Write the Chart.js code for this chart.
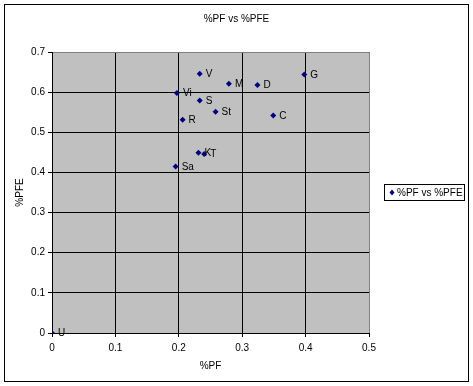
<!DOCTYPE html>
<html>
<head>
<meta charset="utf-8">
<script src="https://cdn.jsdelivr.net/npm/chart.js@4.4.1/dist/chart.umd.min.js"></script>
<style>
  html, body { margin: 0; padding: 0; background: #fff; }
  canvas { display: block; }
</style>
</head>
<body>
<canvas id="scatter" width="473" height="386"></canvas>
<script>
// data
const POINT_NAMES = ['U', 'Sa', 'Vi', 'R', 'K', 'T', 'S', 'V', 'St', 'M', 'D', 'C', 'G'];
const PF_VALUES   = [0, 0.195, 0.197, 0.206, 0.231, 0.240, 0.233, 0.233, 0.258, 0.279, 0.324, 0.349, 0.398];
const PFE_VALUES  = [0, 0.415, 0.598, 0.531, 0.449, 0.446, 0.579, 0.646, 0.551, 0.621, 0.618, 0.542, 0.644];

const TITLE = '%PF vs %PFE';
const SERIES_NAME = '%PF vs %PFE';
const X_TITLE = '%PF';
const Y_TITLE = '%PFE';

const FONT = "'Liberation Sans', Arial, sans-serif";
const NAVY = '#000080';
const PLOT_GREY = '#C0C0C0';
const EDGE_GREY = '#808080';

Chart.defaults.font.family = FONT;
Chart.defaults.font.size = 10;
Chart.defaults.color = '#000';

// ── excel-ish frame, point labels, title and legend ─────────────
const excelFrame = {
  id: 'excelFrame',
  beforeDraw(chart) {
    const { ctx: c, chartArea: a } = chart;
    c.save();
    c.fillStyle = '#fff';
    c.fillRect(0, 0, chart.width, chart.height);
    c.fillStyle = PLOT_GREY;
    c.fillRect(a.left, a.top, a.right - a.left, a.bottom - a.top);
    c.restore();
  },
  afterDatasetsDraw(chart) {
    const c = chart.ctx;
    const pts = chart.getDatasetMeta(0).data;
    c.save();
    c.font = '10px ' + FONT;
    c.fillStyle = '#000';
    c.textAlign = 'left';
    c.textBaseline = 'middle';
    pts.forEach((p, i) => c.fillText(POINT_NAMES[i], p.x + 6, p.y + 0.5));
    c.restore();
  },
  afterDraw(chart) {
    const c = chart.ctx;
    c.save();
    // title
    c.font = '10px ' + FONT;
    c.fillStyle = '#000';
    c.textAlign = 'center';
    c.textBaseline = 'middle';
    c.fillText(TITLE, 236.5, 19);

    // legend box
    c.strokeStyle = '#000';
    c.lineWidth = 1;
    c.strokeRect(384.5, 184.5, 80, 16);
    c.fillStyle = NAVY;
    c.beginPath();
    c.moveTo(392, 189.5); c.lineTo(394.5, 192.5); c.lineTo(392, 195.5); c.lineTo(389.5, 192.5);
    c.closePath();
    c.fill();
    c.fillStyle = '#000';
    c.textAlign = 'left';
    c.fillText(SERIES_NAME, 397, 193);

    // outer border
    c.strokeRect(4.5, 4.5, 464, 377);
    c.restore();
  }
};

new Chart(document.getElementById('scatter'), {
  type: 'scatter',
  data: {
    datasets: [{
      label: SERIES_NAME,
      data: PF_VALUES.map((x, i) => ({ x, y: PFE_VALUES[i] })),
      pointStyle: 'rectRot',
      pointRadius: 3,
      pointBackgroundColor: NAVY,
      pointBorderColor: NAVY,
      pointBorderWidth: 0,
    }]
  },
  plugins: [excelFrame],
  options: {
    responsive: false,
    animation: false,
    layout: { padding: { left: 6, right: 104, top: 52, bottom: 9 } },
    plugins: {
      legend: { display: false },
      title: { display: false },
      tooltip: { enabled: false }
    },
    scales: {
      x: {
        type: 'linear',
        min: 0,
        max: 0.5,
        afterFit: s => { s.height = 44; },
        ticks: {
          stepSize: 0.1,
          padding: 5,
          maxRotation: 0,
          callback: v => String(+v.toFixed(1))
        },
        grid: {
          color: ctx => (ctx.tick && Math.abs(ctx.tick.value - 0.5) < 1e-6) ? EDGE_GREY : '#000',
          tickColor: '#000',
          tickLength: 4,
        },
        border: { color: '#000', width: 1 },
        title: { display: true, text: X_TITLE, padding: { top: 0, bottom: 5 } }
      },
      y: {
        type: 'linear',
        min: 0,
        max: 0.7,
        afterFit: s => { s.width = 46; },
        ticks: {
          stepSize: 0.1,
          padding: 3,
          callback: v => String(+v.toFixed(1))
        },
        grid: {
          color: ctx => (ctx.tick && Math.abs(ctx.tick.value - 0.7) < 1e-6) ? EDGE_GREY : '#000',
          tickColor: '#000',
          tickLength: 4,
        },
        border: { color: '#000', width: 1 },
        title: { display: true, text: Y_TITLE, padding: { top: 8, bottom: 0 } }
      }
    }
  }
});
</script>
</body>
</html>
